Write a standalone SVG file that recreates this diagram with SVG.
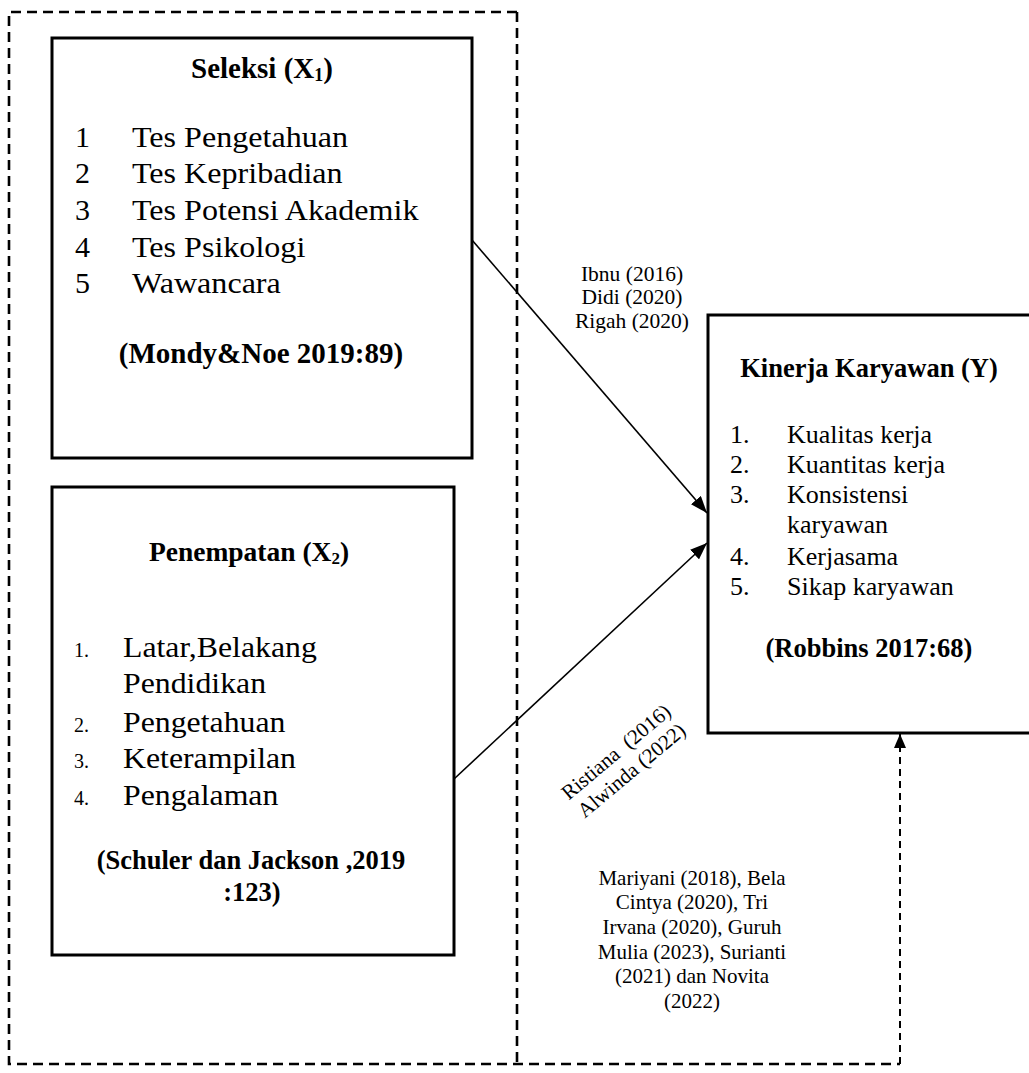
<svg xmlns="http://www.w3.org/2000/svg" width="1029" height="1073" viewBox="0 0 1029 1073">
<defs>
<style>
.box{fill:#fff;stroke:#000;stroke-width:3}
.frame{fill:none;stroke:#000;stroke-width:2.6;stroke-dasharray:10 6}
.edge{fill:none;stroke:#000;stroke-width:1.6}
.dedge{fill:none;stroke:#000;stroke-width:2;stroke-dasharray:7 5}
.t{font-family:"Liberation Serif","Times New Roman",serif;fill:#000}
.b{font-weight:bold}
.m{text-anchor:middle}
</style>
<marker id="ah" viewBox="0 0 17 13" refX="17" refY="6.5" markerWidth="17" markerHeight="13" markerUnits="userSpaceOnUse" orient="auto">
<path d="M0,0 L17,6.5 L0,13 z" fill="#000"/>
</marker>
<marker id="ah2" viewBox="0 0 14 12" refX="14" refY="6" markerWidth="14" markerHeight="12" markerUnits="userSpaceOnUse" orient="auto">
<path d="M0,0 L14,6 L0,12 z" fill="#000"/>
</marker>
</defs>
<rect width="1029" height="1073" fill="#fff"/>

<g id="boundary">
<path class="frame" d="M517,12 H9 V1064 H900"/>
<path class="frame" d="M517,12 V1064"/>
</g>

<g id="node-x1">
<rect class="box" x="52" y="38" width="420" height="420"/>
<text class="t b m" x="262" y="78" font-size="29">Seleksi (X<tspan font-size="18" dy="3">1</tspan><tspan dy="-3">)</tspan></text>
<g class="t" font-size="30">
<text x="75" y="147">1</text>
<text x="75" y="183">2</text>
<text x="75" y="220">3</text>
<text x="75" y="257">4</text>
<text x="75" y="293">5</text>
</g>
<g class="t" font-size="30" transform="translate(132,0) scale(1.07,1)">
<text x="0" y="147">Tes Pengetahuan</text>
<text x="0" y="183">Tes Kepribadian</text>
<text x="0" y="220">Tes Potensi Akademik</text>
<text x="0" y="257">Tes Psikologi</text>
<text x="0" y="293">Wawancara</text>
</g>
<text class="t b m" x="261" y="363" font-size="29">(Mondy&amp;Noe 2019:89)</text>
</g>

<g id="node-x2">
<rect class="box" x="52" y="487" width="402" height="468"/>
<text class="t b m" x="249" y="561" font-size="27.5">Penempatan (X<tspan font-size="17" dy="3">2</tspan><tspan dy="-3">)</tspan></text>
<g class="t" font-size="20">
<text x="74" y="657">1.</text>
<text x="74" y="732">2.</text>
<text x="74" y="768">3.</text>
<text x="74" y="805">4.</text>
</g>
<g class="t" font-size="30" transform="translate(123,0) scale(1.06,1)">
<text x="0" y="657">Latar,Belakang</text>
<text x="0" y="693">Pendidikan</text>
<text x="0" y="732">Pengetahuan</text>
<text x="0" y="768">Keterampilan</text>
<text x="0" y="805">Pengalaman</text>
</g>
<text class="t b m" x="251" y="869" font-size="26.5">(Schuler dan Jackson ,2019</text>
<text class="t b m" x="252" y="901" font-size="26.5">:123)</text>
</g>

<g id="node-y">
<rect class="box" x="708" y="315" width="330" height="418"/>
<text class="t b m" x="869" y="377" font-size="26.5">Kinerja Karyawan (Y)</text>
<g class="t" font-size="26">
<text x="730" y="443">1.</text><text x="787" y="443">Kualitas kerja</text>
<text x="730" y="473">2.</text><text x="787" y="473">Kuantitas kerja</text>
<text x="730" y="503">3.</text><text x="787" y="503">Konsistensi</text>
<text x="787" y="533">karyawan</text>
<text x="730" y="565">4.</text><text x="787" y="565">Kerjasama</text>
<text x="730" y="595">5.</text><text x="787" y="595">Sikap karyawan</text>
</g>
<text class="t b m" x="869" y="657" font-size="26.5">(Robbins 2017:68)</text>
</g>

<g id="connectors">
<line class="edge" x1="472" y1="240" x2="707" y2="513" marker-end="url(#ah)"/>
<line class="edge" x1="454" y1="779" x2="707" y2="543" marker-end="url(#ah)"/>
<line class="dedge" x1="900" y1="1064" x2="900" y2="734" marker-end="url(#ah2)"/>
<g class="t m" font-size="21.5">
<text x="632" y="281">Ibnu (2016)</text>
<text x="632" y="304">Didi (2020)</text>
<text x="632" y="328">Rigah (2020)</text>
</g>
<g class="t m" font-size="21" transform="translate(616,752) rotate(-40)">
<text x="0" y="7" xml:space="preserve">Ristiana  (2016)</text>
<text x="0" y="31">Alwinda (2022)</text>
</g>
<g class="t m" font-size="21">
<text x="692" y="885">Mariyani (2018), Bela</text>
<text x="692" y="909">Cintya (2020), Tri</text>
<text x="692" y="934">Irvana (2020), Guruh</text>
<text x="692" y="959">Mulia (2023), Surianti</text>
<text x="692" y="983">(2021) dan Novita</text>
<text x="692" y="1008">(2022)</text>
</g>
</g>
</svg>
